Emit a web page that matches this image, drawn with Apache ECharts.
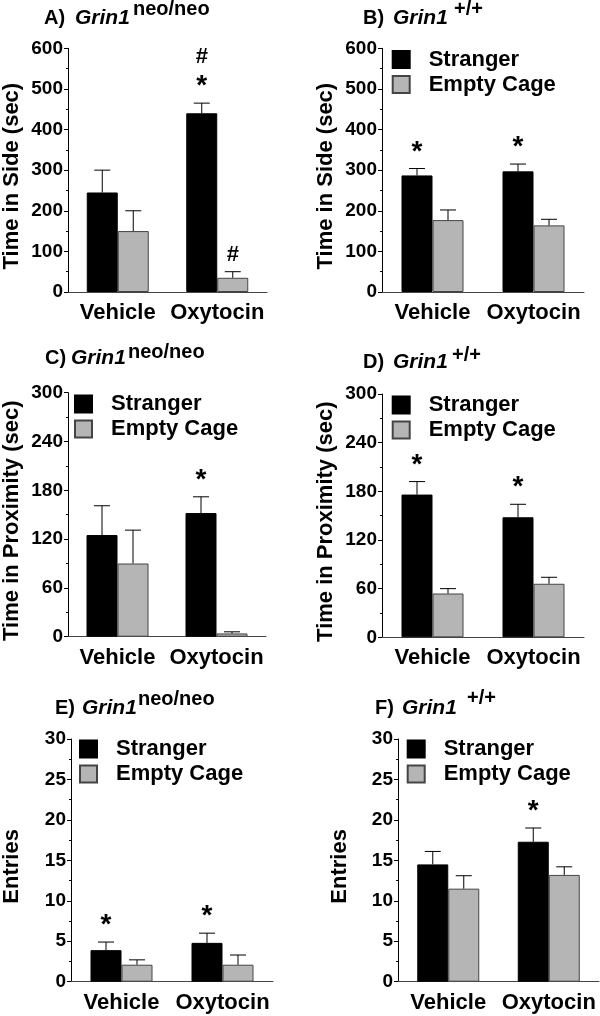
<!DOCTYPE html>
<html>
<head>
<meta charset="utf-8">
<script src="https://cdn.jsdelivr.net/npm/echarts@6/dist/echarts.min.js"></script>
<style>
html,body{margin:0;padding:0;background:#fff;}
#main{width:600px;height:1016px;}
</style>
</head>
<body>
<div id="main"></div>
<script>
// ---- data ----
const categories = ['Vehicle', 'Oxytocin'];

const A_stranger = [245, 440], A_strangerSem = [55, 25], A_empty = [150, 35], A_emptySem = [50, 15];
const A_strangerMarks = ['', '#*'], A_emptyMarks = ['', '#'];

const B_stranger = [287, 297], B_strangerSem = [17, 18], B_empty = [177, 164], B_emptySem = [25, 15];
const B_strangerMarks = ['*', '*'], B_emptyMarks = ['', ''];

const C_stranger = [125, 152], C_strangerSem = [36, 20], C_empty = [90, 4], C_emptySem = [41, 2];
const C_strangerMarks = ['', '*'], C_emptyMarks = ['', ''];

const D_stranger = [176, 148], D_strangerSem = [16, 16], D_empty = [54, 66], D_emptySem = [6, 8];
const D_strangerMarks = ['*', '*'], D_emptyMarks = ['', ''];

const E_stranger = [3.9, 4.8], E_strangerSem = [1.0, 1.2], E_empty = [2.1, 2.1], E_emptySem = [0.6, 1.2];
const E_strangerMarks = ['*', '*'], E_emptyMarks = ['', ''];

const F_stranger = [14.5, 17.3], F_strangerSem = [1.6, 1.7], F_empty = [11.5, 13.2], F_emptySem = [1.6, 1.0];
const F_strangerMarks = ['', '*'], F_emptyMarks = ['', ''];

const sideTicksTimeSide = [0, 600, 100];
const ticksProximity = [0, 300, 60];
const ticksEntries = [0, 30, 5];

// ---- style ----
const FONT = '"Liberation Sans", Arial, sans-serif';
const BAR_W = 31;
const GRAY = '#b5b5b5';

const panels = [
  {id:'A', grid:{left:66, top:48.3, width:201, height:243.7}, ax:sideTicksTimeSide, name:'Time in Side (sec)', gap:45,
   s:A_stranger, ss:A_strangerSem, e:A_empty, es:A_emptySem, sm:A_strangerMarks, em:A_emptyMarks, legend:null,
   title:{label:'A)', sup:'neo/neo', x:[44,75,133], y:[18,9]}},
  {id:'B', grid:{left:382, top:48.3, width:202, height:243.7}, ax:sideTicksTimeSide, name:'Time in Side (sec)', gap:45,
   s:B_stranger, ss:B_strangerSem, e:B_empty, es:B_emptySem, sm:B_strangerMarks, em:B_emptyMarks, legend:{left:391.7, top:48.5},
   title:{label:'B)', sup:'+/+', x:[363,393,454], y:[18,9]}},
  {id:'C', grid:{left:65, top:392.7, width:201, height:244}, ax:ticksProximity, name:'Time in Proximity (sec)', gap:45,
   s:C_stranger, ss:C_strangerSem, e:C_empty, es:C_emptySem, sm:C_strangerMarks, em:C_emptyMarks, legend:{left:74, top:393},
   title:{label:'C)', sup:'neo/neo', x:[45,71,128], y:[358,352]}},
  {id:'D', grid:{left:382, top:394, width:202, height:243.3}, ax:ticksProximity, name:'Time in Proximity (sec)', gap:45,
   s:D_stranger, ss:D_strangerSem, e:D_empty, es:D_emptySem, sm:D_strangerMarks, em:D_emptyMarks, legend:{left:391.7, top:394},
   title:{label:'D)', sup:'+/+', x:[363,393,452], y:[362,355]}},
  {id:'E', grid:{left:71, top:739, width:202, height:242.7}, ax:ticksEntries, name:'Entries', gap:48,
   s:E_stranger, ss:E_strangerSem, e:E_empty, es:E_emptySem, sm:E_strangerMarks, em:E_emptyMarks, legend:{left:79, top:738},
   title:{label:'E)', sup:'neo/neo', x:[55,82,138], y:[708,699]}},
  {id:'F', grid:{left:398, top:739, width:201, height:242.7}, ax:ticksEntries, name:'Entries', gap:47,
   s:F_stranger, ss:F_strangerSem, e:F_empty, es:F_emptySem, sm:F_strangerMarks, em:F_emptyMarks, legend:{left:406.7, top:738},
   title:{label:'F)', sup:'+/+', x:[375,402,467], y:[708,698]}}
];

function errRender(marks, side) {
  return function (params, api) {
    const i = api.value(0), v = api.value(1), e = api.value(2);
    const base = api.coord([i, v]);
    const top = api.coord([i, v + e]);
    const x = base[0] + side * BAR_W / 2;
    const children = [
      {type:'line', shape:{x1:x, y1:base[1], x2:x, y2:top[1]}, style:{stroke:'#000', lineWidth:1}},
      {type:'line', shape:{x1:x - 8, y1:top[1], x2:x + 8, y2:top[1]}, style:{stroke:'#000', lineWidth:1}}
    ];
    const m = marks[params.dataIndex] || '';
    let off = 0;
    for (let k = m.length - 1; k >= 0; k--) {
      const ch = m[k];
      if (off === 0) { off = (ch === '*') ? 23 : 17; } else { off += 23.6; }
      if (ch === '*') {
        children.push({type:'text', style:{text:'*', x:x, y:top[1] - off + 6.3, align:'center', verticalAlign:'middle',
          font:'bold 28px ' + FONT, fill:'#000'}});
      } else {
        children.push({type:'text', style:{text:'#', x:x, y:top[1] - off, align:'center', verticalAlign:'middle',
          font:'bold 22px ' + FONT, fill:'#000'}});
      }
    }
    return {type:'group', children};
  };
}

const option = {
  animation:false,
  backgroundColor:'#fff',
  grid:[], xAxis:[], yAxis:[], series:[], legend:[], graphic:[]
};

panels.forEach((p, k) => {
  option.grid.push(Object.assign({containLabel:false}, p.grid));
  option.xAxis.push({
    type:'category', gridIndex:k, data:categories,
    axisTick:{show:false},
    axisLine:{lineStyle:{color:'#444', width:1}},
    axisLabel:{color:'#000', fontFamily:FONT, fontWeight:'bold', fontSize:22, margin:10, interval:0}
  });
  option.yAxis.push({
    type:'value', gridIndex:k, min:p.ax[0], max:p.ax[1], interval:p.ax[2],
    name:p.name, nameLocation:'middle', nameGap:p.gap,
    nameTextStyle:{color:'#000', fontFamily:FONT, fontWeight:'bold', fontSize:22, padding:[0, 12, 0, 0]},
    axisLine:{show:true, lineStyle:{color:'#000', width:1}},
    axisTick:{show:true, length:4, lineStyle:{color:'#000'}},
    minorTick:{show:true, splitNumber:2, length:2, lineStyle:{color:'#000'}},
    splitLine:{show:false},
    axisLabel:{color:'#000', fontFamily:FONT, fontWeight:'bold', fontSize:19, margin:5}
  });
  option.series.push({
    type:'bar', name:'Stranger', xAxisIndex:k, yAxisIndex:k, data:p.s,
    barWidth:BAR_W, barGap:'0%',
    itemStyle:{color:'#000', borderColor:'#000', borderWidth:1}
  });
  option.series.push({
    type:'bar', name:'Empty Cage', xAxisIndex:k, yAxisIndex:k, data:p.e,
    barWidth:BAR_W, barGap:'0%',
    itemStyle:{color:GRAY, borderColor:'#444', borderWidth:1}
  });
  option.series.push({
    type:'custom', name:'errS' + p.id, xAxisIndex:k, yAxisIndex:k, z:5, clip:false,
    data:p.s.map((v, i) => [i, v, p.ss[i]]),
    renderItem:errRender(p.sm, -1)
  });
  option.series.push({
    type:'custom', name:'errE' + p.id, xAxisIndex:k, yAxisIndex:k, z:5, clip:false,
    data:p.e.map((v, i) => [i, v, p.es[i]]),
    renderItem:errRender(p.em, 1)
  });
  if (p.legend) {
    option.legend.push({
      left:p.legend.left, top:p.legend.top, orient:'vertical', padding:0,
      data:['Stranger', 'Empty Cage'], selectedMode:false,
      icon:'rect', itemWidth:17, itemHeight:17, itemGap:3,
      textStyle:{color:'#000', fontFamily:FONT, fontWeight:'bold', fontSize:22, lineHeight:22, padding:[0,0,0,14]}
    });
  }
  const t = p.title;
  option.graphic.push({type:'text', x:t.x[0], y:t.y[0], style:{text:t.label, font:'bold 20px ' + FONT, fill:'#000', verticalAlign:'middle'}});
  option.graphic.push({type:'text', x:t.x[1], y:t.y[0], style:{text:'Grin1', font:'italic bold 21px ' + FONT, fill:'#000', verticalAlign:'middle'}});
  option.graphic.push({type:'text', x:t.x[2], y:t.y[1], style:{text:t.sup, font:'bold 20px ' + FONT, fill:'#000', verticalAlign:'middle'}});
});

const chart = echarts.init(document.getElementById('main'), null, {renderer:'canvas'});
chart.setOption(option);
</script>
</body>
</html>
